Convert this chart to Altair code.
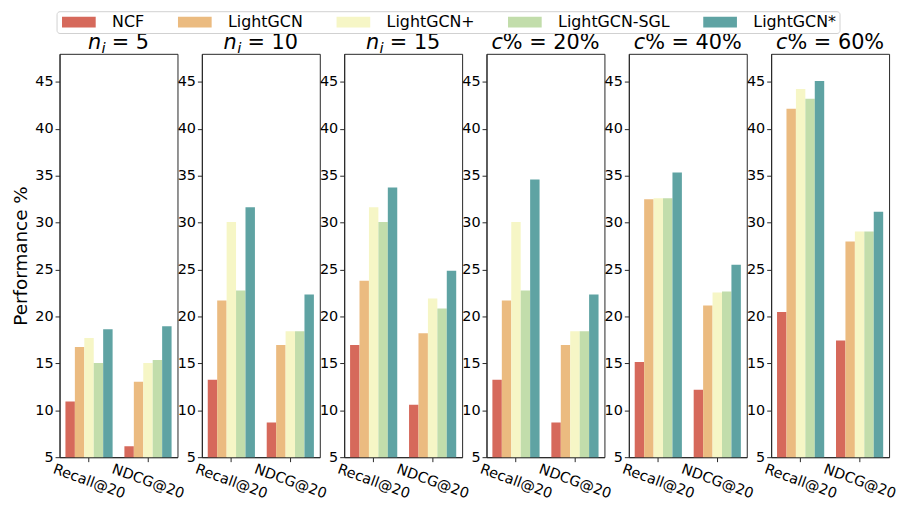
import altair as alt
import pandas as pd

methods = ["NCF", "LightGCN", "LightGCN+", "LightGCN-SGL", "LightGCN*"]
colors = ["#d6695b", "#ebbb80", "#f6f6c6", "#c2ddab", "#5fa3a3"]
metrics = ["Recall@20", "NDCG@20"]

# panel titles: (italic symbol, subscript, rest)
titles = [("n", "i", " = 5"), ("n", "i", " = 10"), ("n", "i", " = 15"),
          ("c", "", "% = 20%"), ("c", "", "% = 40%"), ("c", "", "% = 60%")]

recall_n5 = [10.93, 16.75, 17.70, 15.05, 18.65]
ndcg_n5 = [6.16, 13.04, 15.05, 15.37, 18.97]
recall_n10 = [13.25, 21.70, 30.06, 22.77, 31.65]
ndcg_n10 = [8.70, 16.95, 18.43, 18.43, 22.34]
recall_n15 = [16.95, 23.82, 31.65, 30.06, 33.76]
ndcg_n15 = [10.60, 18.22, 21.92, 20.86, 24.88]
recall_c20 = [13.25, 21.70, 30.06, 22.77, 34.60]
ndcg_c20 = [8.70, 16.95, 18.43, 18.43, 22.34]
recall_c40 = [15.15, 32.50, 32.60, 32.60, 35.35]
ndcg_c40 = [12.19, 21.18, 22.55, 22.66, 25.51]
recall_c60 = [20.49, 42.15, 44.26, 43.20, 45.10]
ndcg_c60 = [17.43, 27.99, 29.05, 29.05, 31.16]

recalls = [recall_n5, recall_n10, recall_n15, recall_c20, recall_c40, recall_c60]
ndcgs = [ndcg_n5, ndcg_n10, ndcg_n15, ndcg_c20, ndcg_c40, ndcg_c60]

y_ticks = [5, 10, 15, 20, 25, 30, 35, 40, 45]

W, H = 119, 407
TFS = 21  # title font size
SUBFS = 15

# approximate DejaVu Sans advance widths (em)
cw = {"n": 0.634, "i": 0.278, "c": 0.55, " ": 0.318, "=": 0.838, "%": 0.95}
for d in "0123456789":
    cw[d] = 0.636


def tw(s, fs):
    return sum(cw.get(ch, 0.6) for ch in s) * fs


def panel(k):
    rows = []
    for m, v in zip(methods, recalls[k]):
        rows.append({"metric": "Recall@20", "method": m, "value": v})
    for m, v in zip(methods, ndcgs[k]):
        rows.append({"metric": "NDCG@20", "method": m, "value": v})
    df = pd.DataFrame(rows)
    bars = alt.Chart(df).mark_bar(clip=True).encode(
        x=alt.X("metric:N", sort=metrics,
                scale=alt.Scale(paddingInner=0.2, paddingOuter=0.1),
                axis=alt.Axis(title=None, labelAngle=20, labelAlign="center",
                              labelBaseline="middle", labelPadding=20)),
        xOffset=alt.XOffset("method:N", sort=methods,
                            scale=alt.Scale(paddingInner=0, paddingOuter=0)),
        y=alt.Y("value:Q",
                scale=alt.Scale(domain=[5, 48], nice=False, zero=False),
                axis=alt.Axis(values=y_ticks, grid=False,
                              title="Performance %" if k == 0 else None,
                              titleFontSize=18.5, titleFontWeight="normal",
                              titleColor="black", titlePadding=4)),
        color=alt.Color("method:N", sort=methods,
                        scale=alt.Scale(domain=methods, range=colors),
                        legend=alt.Legend(title=None)),
    )
    sym, sub, rest = titles[k]
    total = tw(sym, TFS) + tw(sub, SUBFS) + tw(rest, TFS)
    x0 = W / 2 - total / 2
    x1 = x0 + tw(sym, TFS)
    lead = len(rest) - len(rest.lstrip(" "))
    x2 = x1 + tw(sub, SUBFS) + lead * cw[" "] * TFS
    t_sym = alt.Chart(pd.DataFrame({"t": [sym]})).mark_text(
        fontSize=TFS, fontStyle="italic", align="left", baseline="alphabetic",
        color="black").encode(text="t:N", x=alt.value(x0), y=alt.value(-5))
    layers = [bars, t_sym]
    if sub:
        t_sub = alt.Chart(pd.DataFrame({"t": [sub]})).mark_text(
            fontSize=SUBFS, fontStyle="italic", align="left",
            baseline="alphabetic", color="black").encode(
            text="t:N", x=alt.value(x1 + 0.5), y=alt.value(-1))
        layers.append(t_sub)
    t_rest = alt.Chart(pd.DataFrame({"t": [rest.lstrip(" ")]})).mark_text(
        fontSize=TFS, align="left", baseline="alphabetic",
        color="black").encode(text="t:N", x=alt.value(x2), y=alt.value(-5))
    layers.append(t_rest)
    return alt.layer(*layers).properties(width=W, height=H)


chart = alt.hconcat(*[panel(k) for k in range(6)], spacing=24.6, bounds="flush").properties(
    padding={"left": 3, "top": 0, "right": 0, "bottom": 0}
).configure(font="DejaVu Sans").configure_view(
    stroke="#262626", strokeWidth=1
).configure_axis(
    domainColor="#262626", tickColor="#262626", labelColor="black",
    labelFont="DejaVu Sans", labelFontSize=14.5, tickSize=4.5,
    domainWidth=1, tickWidth=1, titleFont="DejaVu Sans"
).configure_axisY(labelPadding=2).configure_legend(
    orient="none", legendX=-3, legendY=-43, direction="horizontal",
    columns=5, symbolType="M-1,-1H5.18V1H-1Z", symbolSize=121,
    symbolStrokeWidth=0, symbolOpacity=1, labelFontSize=16,
    labelFont="DejaVu Sans", labelColor="black", columnPadding=31,
    labelOffset=37, padding=3, strokeColor="#d0d0d0", cornerRadius=3,
    fillColor="white", labelLimit=0
)

chart.save("out.html", embed_options={"renderer": "svg", "actions": False})
